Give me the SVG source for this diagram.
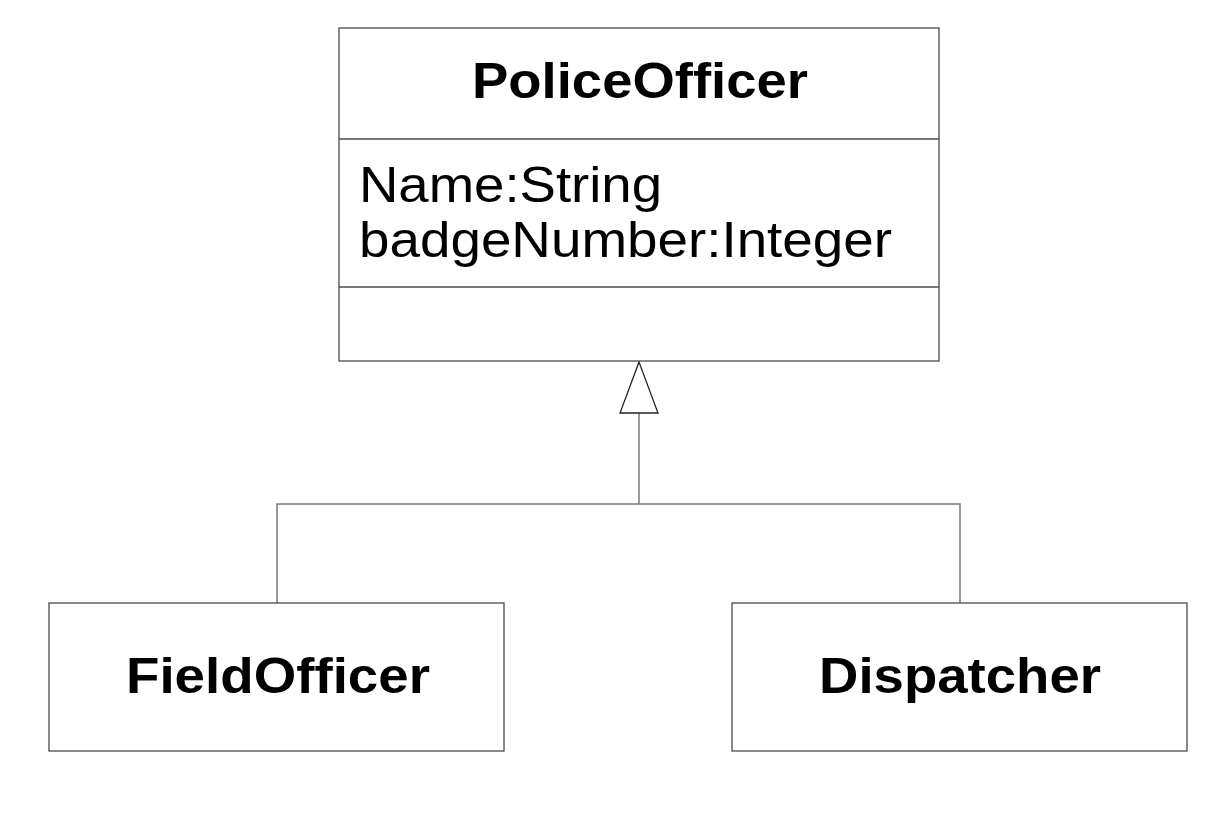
<svg xmlns="http://www.w3.org/2000/svg" width="1230" height="820" viewBox="0 0 1230 820">
<style>
.box{fill:#fff;stroke:#4a4a4a;stroke-width:1.3}
.div{stroke:#4a4a4a;stroke-width:1.3}
.title{font-family:"Liberation Sans",Arial,sans-serif;font-weight:bold;font-size:50px;fill:#000;text-anchor:middle}
.attr{font-family:"Liberation Sans",Arial,sans-serif;font-size:50px;fill:#000}
.conn{fill:none;stroke:#7a7a7a;stroke-width:1.5}
.tri{fill:#fff;stroke:#222;stroke-width:1.3}
</style>
<rect width="1230" height="820" fill="#fff"/>
<g id="connectors">
<polyline class="conn" points="277,603 277,504 960,504 960,603"/>
<line class="conn" x1="639" y1="413" x2="639" y2="504"/>
<polygon class="tri" points="639,362 620,413 658,413"/>
</g>
<g id="PoliceOfficer">
<rect class="box" x="339" y="28" width="600" height="333"/>
<line class="div" x1="339" y1="139" x2="939" y2="139"/>
<line class="div" x1="339" y1="287" x2="939" y2="287"/>
<text class="title" x="640" y="98" textLength="336" lengthAdjust="spacingAndGlyphs">PoliceOfficer</text>
<text class="attr" x="359" y="202" textLength="303" lengthAdjust="spacingAndGlyphs">Name:String</text>
<text class="attr" x="359" y="257" textLength="533" lengthAdjust="spacingAndGlyphs">badgeNumber:Integer</text>
</g>
<g id="FieldOfficer">
<rect class="box" x="49" y="603" width="455" height="148"/>
<text class="title" x="278" y="693" textLength="304" lengthAdjust="spacingAndGlyphs">FieldOfficer</text>
</g>
<g id="Dispatcher">
<rect class="box" x="732" y="603" width="455" height="148"/>
<text class="title" x="960" y="693" textLength="282" lengthAdjust="spacingAndGlyphs">Dispatcher</text>
</g>
</svg>
